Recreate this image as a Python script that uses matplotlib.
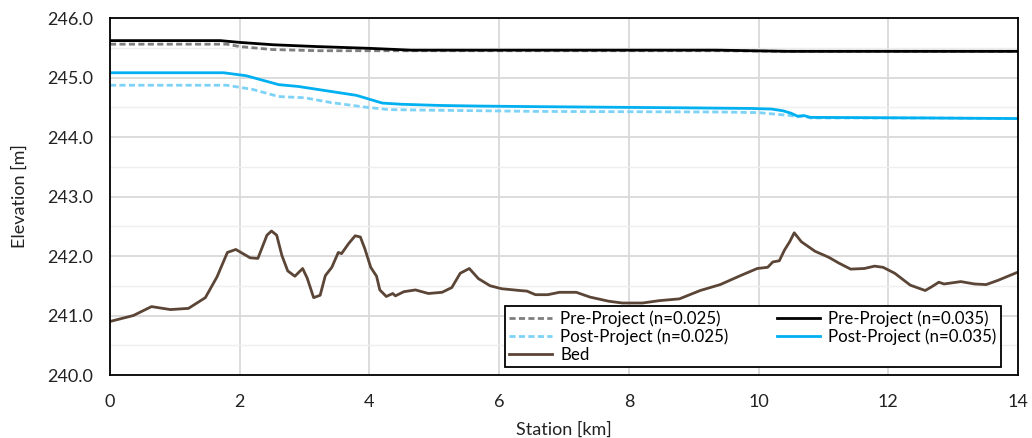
import matplotlib.pyplot as plt
from matplotlib.ticker import MultipleLocator
import numpy as np

plt.rcParams['font.family'] = ['Lato', 'DejaVu Sans']

# Bed profile
bed_km = [0.0, 0.36, 0.64, 0.93, 1.21, 1.47, 1.65, 1.81, 1.94, 2.16, 2.28, 2.42, 2.49, 2.57,
          2.65, 2.74, 2.85, 2.97, 3.04, 3.14, 3.24, 3.32, 3.42, 3.52, 3.57, 3.68, 3.78, 3.86,
          3.93, 4.02, 4.11, 4.16, 4.26, 4.36, 4.40, 4.53, 4.71, 4.91, 5.12, 5.27, 5.40, 5.54,
          5.68, 5.86, 6.04, 6.32, 6.43, 6.56, 6.75, 6.93, 7.19, 7.40, 7.69, 7.90, 8.21, 8.47,
          8.78, 9.10, 9.41, 9.72, 9.98, 10.14, 10.22, 10.32, 10.40, 10.48, 10.55, 10.66, 10.87,
          11.08, 11.24, 11.42, 11.63, 11.79, 11.92, 12.10, 12.34, 12.57, 12.68, 12.78, 12.86,
          13.12, 13.33, 13.51, 13.69, 14.0]
bed_el = [240.90, 241.00, 241.15, 241.10, 241.12, 241.30, 241.65, 242.06, 242.11, 241.97,
          241.96, 242.35, 242.42, 242.35, 242.01, 241.75, 241.66, 241.79, 241.63, 241.30,
          241.34, 241.67, 241.81, 242.06, 242.04, 242.21, 242.34, 242.32, 242.12, 241.81,
          241.66, 241.43, 241.32, 241.37, 241.33, 241.40, 241.43, 241.37, 241.39, 241.47,
          241.71, 241.79, 241.62, 241.50, 241.45, 241.42, 241.41, 241.35, 241.35, 241.39,
          241.39, 241.31, 241.24, 241.21, 241.21, 241.25, 241.28, 241.42, 241.52, 241.67,
          241.79, 241.81, 241.90, 241.92, 242.10, 242.24, 242.39, 242.24, 242.08, 241.98,
          241.88, 241.78, 241.79, 241.83, 241.81, 241.71, 241.51, 241.42, 241.49, 241.56,
          241.53, 241.57, 241.53, 241.52, 241.59, 241.73]

# Pre-Project water surfaces
pre025_km = [0.0, 1.80, 2.0, 2.5, 3.2, 4.0, 9.4, 10.4, 14.0]
pre025_el = [245.56, 245.56, 245.52, 245.47, 245.45, 245.45, 245.45, 245.44, 245.44]
pre035_km = [0.0, 1.70, 2.0, 2.52, 3.19, 4.0, 4.64, 9.36, 10.44, 14.0]
pre035_el = [245.62, 245.62, 245.59, 245.55, 245.52, 245.49, 245.46, 245.46, 245.44, 245.44]

# Post-Project water surfaces
post025_km = [0.0, 1.80, 2.2, 2.6, 3.0, 3.4, 3.95, 4.3, 5.0, 6.6, 9.4, 10.0, 10.3, 10.5,
              10.6, 10.7, 10.8, 12.57, 14.0]
post025_el = [244.87, 244.87, 244.80, 244.68, 244.66, 244.58, 244.50, 244.46, 244.45,
              244.43, 244.42, 244.41, 244.38, 244.36, 244.34, 244.35, 244.32, 244.32, 244.31]
post035_km = [0.0, 1.75, 2.1, 2.6, 2.9, 3.2, 3.5, 3.8, 4.2, 4.5, 5.1, 5.7, 6.61, 8.89, 9.88,
              10.2, 10.38, 10.5, 10.6, 10.7, 10.8, 12.57, 14.0]
post035_el = [245.08, 245.08, 245.03, 244.88, 244.85, 244.80, 244.75, 244.70, 244.57,
              244.55, 244.53, 244.52, 244.51, 244.49, 244.48, 244.47, 244.44, 244.40, 244.35,
              244.36, 244.33, 244.32, 244.31]

fig = plt.figure(figsize=(10.32, 4.38), dpi=100)
ax = fig.add_axes([0.1066, 0.1438, 0.8798, 0.8151])

ax.plot(pre025_km, pre025_el, color='#7F7F7F', lw=2, ls=(0, (2.2, 1.2)), label='Pre-Project (n=0.025)')
ax.plot(post025_km, post025_el, color='#7DD3F7', lw=2, ls=(0, (2.2, 1.2)), label='Post-Project (n=0.025)')
ax.plot(bed_km, bed_el, color='#5B4536', lw=2, label='Bed')
ax.plot(pre035_km, pre035_el, color='black', lw=2, label='Pre-Project (n=0.035)')
ax.plot(post035_km, post035_el, color='#00B0F0', lw=2, label='Post-Project (n=0.035)')

ax.set_xlim(0, 14)
ax.set_ylim(240, 246)
ax.xaxis.set_major_locator(MultipleLocator(2))
ax.yaxis.set_major_locator(MultipleLocator(1))
ax.yaxis.set_minor_locator(MultipleLocator(0.5))
ax.yaxis.set_major_formatter(plt.FuncFormatter(lambda v, p: f'{v:.1f}'))
ax.grid(which='major', color='#D9D9D9', lw=1.3)
ax.grid(which='minor', axis='y', color='#EFEFEF', lw=1.0)
ax.set_axisbelow(True)
ax.tick_params(which='both', length=0, labelsize=13, colors='#222222')
ax.tick_params(axis='x', pad=14)
ax.tick_params(axis='y', pad=12)
for s in ax.spines.values():
    s.set_color('black')
    s.set_linewidth(1.3)

ax.set_xlabel('Station [km]', fontsize=13, color='#222222', labelpad=8)
ax.set_ylabel('Elevation [m]', fontsize=13, color='#222222', labelpad=14)

leg = ax.legend(ncol=2, loc='lower right', bbox_to_anchor=(0.981, 0.022), fontsize=12.2,
                frameon=True, fancybox=False, edgecolor='black', framealpha=1,
                handlelength=2.5, columnspacing=2.9, labelspacing=0.1, borderpad=0.25,
                handletextpad=0.5, borderaxespad=0)
leg.get_frame().set_linewidth(1.3)

plt.savefig('out.png')
